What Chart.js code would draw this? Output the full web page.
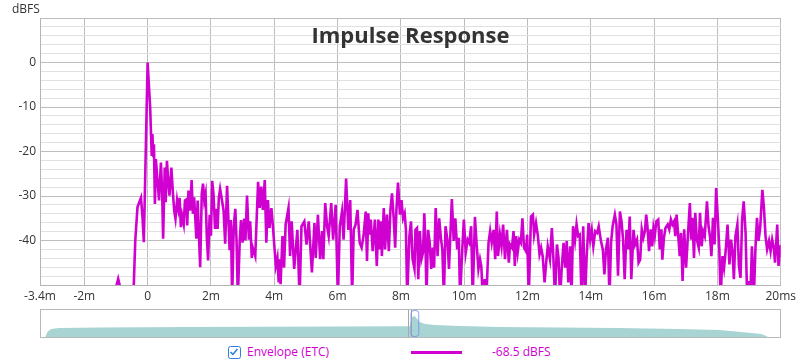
<!DOCTYPE html>
<html>
<head>
<meta charset="utf-8">
<script src="https://cdn.jsdelivr.net/npm/chart.js@4/dist/chart.umd.min.js"></script>
<style>
    body { margin: 0; background: #fff; width: 800px; height: 364px; overflow: hidden; position: relative; font-family: 'Open Sans', sans-serif; }
    #main { position: absolute; left: 0; top: 0; }
    #titulo { position: absolute; left: 40px; width: 741px; top: 19px; text-align: center; font-size: 22px; line-height: 30px; font-weight: 700; color: #333; }
    #unidad { position: absolute; left: 12px; top: 1px; font-size: 12px; line-height: 16px; color: #333; }
    #marco { position: absolute; left: 40px; top: 309px; width: 739px; height: 27px; border: 1px solid #b8b8b8; }
    #overview { position: absolute; left: 41px; top: 310px; }
    .leyenda { position: absolute; font-size: 12px; line-height: 16px; color: #d000d0; }
    #check { position: absolute; left: 228px; top: 346px; width: 13px; height: 13px; box-sizing: border-box; border: 1.5px solid #2f7fe0; border-radius: 2.5px; background: #fff; overflow: hidden; }
    #check svg { position: absolute; left: 0; top: 0; display: block; }
    #muestra { position: absolute; left: 411px; top: 351px; width: 51px; height: 3px; background: #d000d0; }
</style>
</head>
<body>
<canvas id="main" width="800" height="305"></canvas>
<div id="titulo">Impulse Response</div>
<div id="unidad">dBFS</div>
<div id="marco"></div>
<canvas id="overview" width="739" height="27"></canvas>
<div id="check"><svg width="10" height="10" viewBox="0 0 10 10"><polyline points="1.5,5 3.9,7.4 8.4,2" fill="none" stroke="#2f7fe0" stroke-width="1.6"/></svg></div>
<div class="leyenda" style="left:247px; top:344px;">Envelope (ETC)</div>
<div id="muestra"></div>
<div class="leyenda" style="left:492px; top:344px;">-68.5 dBFS</div>

<script>
// datos (tiempo en ms, nivel en dBFS)
const timeMs = [
    -3.4, -1.2, -1.05, -0.93, -0.82, -0.55, -0.44, -0.39, -0.32, -0.21,
    -0.16, -0.12, 0, 0.08, 0.13, 0.15, 0.18, 0.2, 0.23, 0.26,
    0.32, 0.36, 0.42, 0.46, 0.49, 0.54, 0.57, 0.61, 0.65, 0.69,
    0.75, 0.8, 0.84, 0.88, 0.93, 0.97, 1.01, 1.05, 1.09, 1.14,
    1.18, 1.22, 1.25, 1.29, 1.34, 1.39, 1.43, 1.47, 1.54, 1.58,
    1.66, 1.71, 1.75, 1.79, 1.83, 1.87, 1.91, 1.96, 2, 2.04,
    2.08, 2.13, 2.17, 2.21, 2.25, 2.29, 2.35, 2.4, 2.45, 2.51,
    2.59, 2.63, 2.67, 2.72, 2.77, 2.81, 2.85, 2.91, 2.95, 3,
    3.05, 3.09, 3.14, 3.2, 3.24, 3.29, 3.32, 3.4, 3.43, 3.49,
    3.54, 3.59, 3.64, 3.7, 3.75, 3.8, 3.85, 3.91, 3.95, 4,
    4.05, 4.1, 4.14, 4.17, 4.2, 4.26, 4.31, 4.36, 4.45, 4.5,
    4.55, 4.63, 4.73, 4.8, 4.86, 4.95, 5.02, 5.09, 5.19, 5.27,
    5.31, 5.38, 5.45, 5.51, 5.55, 5.61, 5.67, 5.72, 5.8, 5.86,
    5.94, 6.01, 6.07, 6.14, 6.19, 6.27, 6.34, 6.4, 6.46, 6.51,
    6.57, 6.63, 6.7, 6.76, 6.82, 6.89, 6.93, 6.97, 7.01, 7.05,
    7.11, 7.18, 7.24, 7.29, 7.33, 7.37, 7.4, 7.46, 7.5, 7.56,
    7.62, 7.67, 7.72, 7.77, 7.82, 7.86, 7.91, 7.97, 8.02, 8.07,
    8.12, 8.16, 8.2, 8.27, 8.32, 8.37, 8.43, 8.46, 8.51, 8.55,
    8.6, 8.65, 8.7, 8.74, 8.78, 8.81, 8.86, 8.91, 8.96, 9.01,
    9.05, 9.1, 9.16, 9.21, 9.27, 9.31, 9.36, 9.41, 9.47, 9.52,
    9.61, 9.67, 9.72, 9.78, 9.83, 9.87, 9.94, 9.99, 10.05, 10.11,
    10.16, 10.22, 10.27, 10.34, 10.39, 10.45, 10.5, 10.54, 10.59, 10.65,
    10.7, 10.77, 10.82, 10.87, 10.93, 10.98, 11.03, 11.07, 11.13, 11.18,
    11.23, 11.29, 11.35, 11.41, 11.45, 11.51, 11.56, 11.6, 11.64, 11.69,
    11.74, 11.79, 11.84, 11.89, 11.95, 11.99, 12.04, 12.11, 12.17, 12.21,
    12.27, 12.33, 12.38, 12.43, 12.48, 12.54, 12.59, 12.64, 12.71, 12.77,
    12.82, 12.87, 12.93, 12.98, 13.03, 13.08, 13.14, 13.19, 13.24, 13.29,
    13.35, 13.39, 13.44, 13.5, 13.55, 13.6, 13.65, 13.71, 13.76, 13.82,
    13.87, 13.93, 13.98, 14.03, 14.08, 14.14, 14.2, 14.25, 14.32, 14.38,
    14.43, 14.48, 14.54, 14.59, 14.64, 14.69, 14.76, 14.81, 14.86, 14.92,
    14.97, 15.02, 15.07, 15.13, 15.18, 15.23, 15.28, 15.35, 15.4, 15.46,
    15.51, 15.56, 15.61, 15.66, 15.71, 15.75, 15.79, 15.84, 15.89, 15.94,
    15.98, 16.02, 16.07, 16.13, 16.18, 16.23, 16.26, 16.31, 16.36, 16.43,
    16.48, 16.53, 16.58, 16.63, 16.67, 16.71, 16.76, 16.81, 16.85, 16.9,
    16.95, 17.01, 17.06, 17.13, 17.17, 17.21, 17.26, 17.3, 17.35, 17.41,
    17.45, 17.5, 17.55, 17.6, 17.67, 17.72, 17.77, 17.81, 17.86, 17.91,
    17.96, 18.01, 18.06, 18.1, 18.16, 18.21, 18.26, 18.32, 18.38, 18.43,
    18.48, 18.52, 18.57, 18.63, 18.68, 18.73, 18.78, 18.83, 18.89, 18.94,
    18.99, 19.04, 19.09, 19.15, 19.2, 19.25, 19.3, 19.35, 19.42, 19.47,
    19.52, 19.57, 19.63, 19.68, 19.73, 19.78, 19.82, 19.89, 19.93, 20
];
const levelDb = [
    -60, -60, -52, -48.6, -52, -60, -50.5, -40, -32.5, -30.4,
    -35, -40.4, 0, -10.1, -21, -16.1, -21, -18.4, -31.8, -21.7,
    -27.3, -31, -22.5, -29.5, -39.6, -23.6, -31.4, -22.1, -26.6, -29.9,
    -23.6, -29.5, -33.3, -35.1, -31, -32.9, -30.4, -37, -34.4, -36.3,
    -31, -30.8, -36.6, -28.8, -33.3, -26.4, -34, -30.3, -39.6, -31,
    -46, -29.5, -27.2, -31, -29.5, -39.2, -44.5, -34.2, -38.9, -26.6,
    -29.5, -37.4, -32.9, -37.4, -30.3, -28.4, -31, -33.3, -40.7, -27.7,
    -42.2, -35.4, -53, -37, -32.9, -40.1, -53, -40, -35.4, -40.5,
    -35.1, -40, -29.9, -39.8, -35.7, -43.9, -41.6, -43.5, -37.9, -26.8,
    -32.7, -27.9, -33.1, -26.4, -40.5, -30.9, -37.2, -32.7, -36.1, -40.9,
    -45.7, -43.9, -49.4, -44.2, -49.8, -39, -46.1, -36.4, -32.7, -43.5,
    -35.7, -46.4, -37.6, -53, -36.8, -35.7, -40.9, -35.7, -47.2, -36.1,
    -43.9, -34.2, -44.2, -37.9, -44.2, -31.6, -36.8, -39, -31.6, -39.8,
    -32, -53, -36.8, -33.5, -39.8, -26.1, -37.6, -30.9, -53, -37.6,
    -36.4, -33.1, -40.5, -41.6, -39, -33.5, -44.6, -33.9, -38.7, -35.3,
    -42.4, -35.3, -45.7, -35.3, -42, -35.7, -43.5, -32.7, -42, -34.2,
    -42.4, -33.1, -29.4, -34.6, -41.6, -33.1, -27, -34.2, -30.9, -35,
    -33.9, -37.6, -53, -39, -35.7, -44.2, -46.4, -37.6, -37.2, -48.7,
    -37.9, -44.2, -42.7, -33.9, -41.3, -53, -37.6, -40.5, -46.4, -41.6,
    -46.1, -32.7, -43.5, -35, -39.8, -42, -53, -36.8, -39.8, -46.4,
    -30.7, -40.1, -35, -42, -39.4, -53, -42, -35.3, -42.7, -39.8,
    -40.5, -36.8, -53, -34.7, -40.5, -46.4, -44.2, -45.7, -53, -48.7,
    -53, -40.5, -37.9, -40.5, -37.6, -44.2, -33.5, -43.5, -38.7, -41.3,
    -36.4, -44.2, -37.6, -45, -40.9, -41.6, -37.9, -45.7, -39, -42.7,
    -39.8, -40.5, -35, -41.6, -42.4, -38.7, -53, -34.6, -34.2, -38.7,
    -36.1, -39, -43.1, -41.6, -43.5, -49.4, -45, -41.3, -44.2, -37.2,
    -44.2, -53, -40.9, -43.9, -53, -46.4, -40.5, -46.1, -40.1, -49.4,
    -41.3, -53, -36.8, -40.1, -36.4, -39, -38.7, -53, -36.8, -53,
    -43.5, -36.1, -39.8, -37.6, -41.3, -37.9, -38.3, -36.8, -40.1, -42,
    -47.6, -42, -39.4, -53, -40.5, -36.8, -34.2, -36.4, -47.9, -33.5,
    -35.7, -39.8, -48.7, -37.6, -42, -34.6, -48.7, -37.6, -40.9, -39.8,
    -45, -44.3, -37.5, -39.4, -37.9, -34.2, -36.8, -42.4, -37.5, -41.3,
    -37.2, -39, -35.7, -35.3, -42, -37.5, -44.3, -39.4, -37.2, -36.4,
    -37.5, -35.3, -36.4, -35.7, -39, -34.2, -38.7, -43.5, -38.3, -49.1,
    -37.5, -46.1, -39.8, -31.6, -39.8, -34.9, -43.9, -33.8, -39.8, -41.6,
    -33.8, -41.3, -37.9, -39, -31.2, -36.8, -39.4, -43.5, -34.9, -40.9,
    -28.2, -34.6, -42, -53, -43.5, -46.1, -42.4, -36.4, -45.4, -39.8,
    -42.8, -48.7, -39, -36.4, -45.7, -48.4, -35.3, -31.2, -38.3, -53,
    -49.1, -53, -41.3, -53, -42, -34.9, -40.1, -37.2, -28.6, -32.7,
    -39, -42, -40.1, -42.4, -39.8, -41.6, -45, -36.4, -45.7, -41
];

// ejes
const xTickValues = [-3.4, -2, 0, 2, 4, 6, 8, 10, 12, 14, 16, 18, 20];
const xTickLabels = ['-3.4m', '-2m', '0', '2m', '4m', '6m', '8m', '10m', '12m', '14m', '16m', '18m', '20ms'];
const yGridValues = [-50, -48, -46, -44, -42, -40, -38, -36, -34, -32, -30, -28, -26, -24, -22, -20,
    -18, -16, -14, -12, -10, -8, -6, -4, -2, 0, 2, 4, 6, 8, 10];
const yTickLabels = [0, -10, -20, -30, -40];

// vista general (posición relativa 0..1, nivel relativo 0..100)
const overviewPos = [0, 0.006, 0.009, 0.014, 0.024, 0.08, 0.2, 0.3, 0.4, 0.49, 0.499, 0.502, 0.505, 0.508,
    0.513, 0.52, 0.533, 0.567, 0.62, 0.7, 0.78, 0.864, 0.918, 0.951, 0.972, 0.978, 0.982, 0.985, 1];
const overviewLevel = [0, 0, 20, 30, 33, 35, 37, 38, 39, 40, 40, 72, 79, 70,
    55, 48, 44, 41, 37, 35, 33, 30, 26, 18, 12, 8, 2, 0, 0];
const overviewCursors = [0.4966, 0.5003];
const overviewWindow = [0.5, 0.5105];

Chart.defaults.font.family = "'Open Sans', sans-serif";
Chart.defaults.font.size = 12;
Chart.defaults.color = '#333';

const MAGENTA = '#d000d0';

// gráfico principal
new Chart(document.getElementById('main').getContext('2d'), {
    type: 'line',
    data: {
        datasets: [{
            data: timeMs.map((t, i) => ({ x: t, y: levelDb[i] })),
            borderColor: MAGENTA,
            borderWidth: 2.6,
            pointRadius: 0,
            tension: 0,
            fill: false
        }]
    },
    options: {
        responsive: false,
        animation: false,
        devicePixelRatio: 1,
        layout: { padding: { top: 18, right: 19, left: 0, bottom: 0 } },
        plugins: { legend: { display: false }, tooltip: { enabled: false } },
        scales: {
            x: {
                type: 'linear',
                min: -3.4,
                max: 20,
                afterBuildTicks: s => { s.ticks = xTickValues.map(v => ({ value: v })); },
                afterFit: s => { s.height = 20; },
                grid: { color: '#bdbdbd', drawTicks: false },
                border: { color: '#b4b4b4' },
                ticks: { autoSkip: false, maxRotation: 0, padding: 4, callback: (v, i) => xTickLabels[i] }
            },
            y: {
                min: -50,
                max: 10,
                afterBuildTicks: s => { s.ticks = yGridValues.map(v => ({ value: v })); },
                afterFit: s => { s.width = 40; },
                grid: {
                    color: c => (c.tick && c.tick.value % 10 === 0) ? '#bdbdbd' : '#e0e0e0',
                    drawTicks: false
                },
                border: { color: '#b4b4b4' },
                ticks: { autoSkip: false, padding: 4, callback: v => yTickLabels.includes(v) ? String(v) : '' }
            }
        }
    }
});

// marcador de ventana en la vista general
const marcadorVentana = {
    id: 'marcadorVentana',
    afterDatasetsDraw(chart) {
        const { ctx, chartArea, scales } = chart;
        ctx.save();
        ctx.strokeStyle = '#a8a8a8';
        ctx.lineWidth = 1;
        overviewCursors.forEach(v => {
            const px = Math.round(scales.x.getPixelForValue(v)) + 0.5;
            ctx.beginPath();
            ctx.moveTo(px, chartArea.top);
            ctx.lineTo(px, chartArea.bottom);
            ctx.stroke();
        });
        const x0 = scales.x.getPixelForValue(overviewWindow[0]);
        const x1 = scales.x.getPixelForValue(overviewWindow[1]);
        ctx.strokeStyle = 'rgba(110, 140, 235, 0.8)';
        ctx.beginPath();
        ctx.roundRect(x0 + 0.5, chartArea.top + 0.5, x1 - x0, chartArea.bottom - chartArea.top - 1, 3);
        ctx.stroke();
        ctx.restore();
    }
};

new Chart(document.getElementById('overview').getContext('2d'), {
    type: 'line',
    data: {
        datasets: [{
            data: overviewPos.map((p, i) => ({ x: p, y: overviewLevel[i] })),
            borderWidth: 0,
            borderColor: 'rgba(0,0,0,0)',
            backgroundColor: 'rgb(168, 212, 212)',
            pointRadius: 0,
            tension: 0,
            fill: 'origin'
        }]
    },
    options: {
        responsive: false,
        animation: false,
        devicePixelRatio: 1,
        layout: { padding: 0 },
        plugins: { legend: { display: false }, tooltip: { enabled: false } },
        scales: {
            x: { type: 'linear', min: 0, max: 1, display: false },
            y: { min: 0, max: 100, display: false }
        }
    },
    plugins: [marcadorVentana]
});
</script>
</body>
</html>
